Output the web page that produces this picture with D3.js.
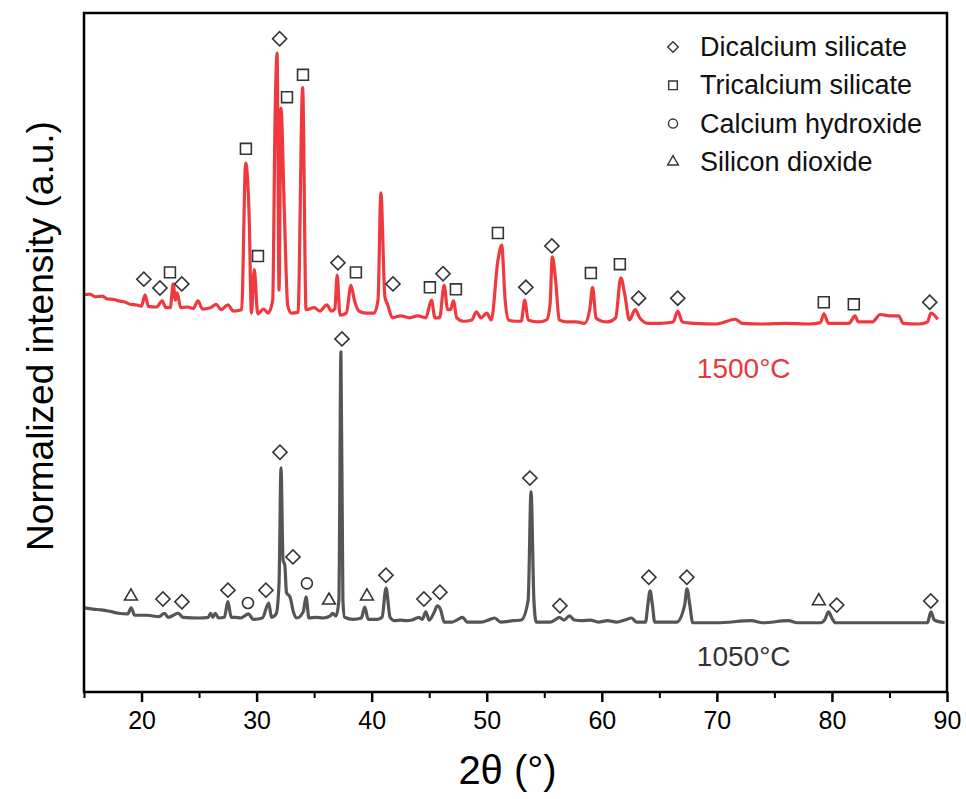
<!DOCTYPE html>
<html>
<head>
<meta charset="utf-8">
<script src="https://cdn.jsdelivr.net/npm/d3@7"></script>
<style>
  body { margin: 0; background: #fff; }
  text { font-family: Arial, "Liberation Sans", Helvetica, sans-serif; }
</style>
</head>
<body>
<div id="chart"></div>
<script>
// XRD patterns, [2θ (°), normalized intensity]
const pattern1500 = [
  [15.0,58.5],[15.5,58.6],[16.0,58.2],[16.6,58.3],[17.0,57.9],[17.6,57.8],[18.0,57.6],[18.6,57.4],
  [19.0,57.1],[19.6,57.0],[20.0,56.8],[20.3,58.5],[20.6,56.8],[21.3,56.7],[21.8,57.6],[22.1,56.6],
  [22.5,56.6],[22.75,60.1],[22.95,57.7],[23.1,58.8],[23.4,56.6],[24.0,56.7],[24.5,56.5],[24.9,57.6],
  [25.3,56.4],[26.0,56.6],[26.5,57.1],[26.9,56.3],[27.5,57.0],[28.0,56.1],[28.7,56.3],[29.05,77.9],
  [29.35,70.2],[29.55,55.8],[29.8,62.2],[30.1,55.7],[30.6,56.4],[31.0,55.8],[31.4,57.7],[31.6,84.2],
  [31.78,94.1],[31.95,59.2],[32.12,86.0],[32.4,71.4],[32.7,57.0],[33.0,55.8],[33.6,55.9],[34.0,89.0],
  [34.3,56.3],[35.0,56.6],[35.5,56.1],[36.1,57.0],[36.5,56.1],[36.8,56.4],[37.0,61.4],[37.25,55.5],
  [37.8,55.8],[38.2,59.9],[38.5,57.7],[38.9,56.1],[39.5,55.8],[40.2,55.8],[40.55,57.7],[40.8,73.5],
  [41.15,58.2],[41.4,57.0],[41.8,55.1],[42.5,55.4],[43.3,55.1],[44.0,55.4],[44.7,55.1],[45.2,57.7],
  [45.5,55.1],[45.9,55.1],[46.3,59.9],[46.6,56.3],[46.85,56.3],[47.1,57.6],[47.4,55.1],[48.0,54.6],
  [48.7,54.8],[49.1,56.0],[49.5,55.1],[50.0,55.8],[50.4,54.8],[50.95,63.3],[51.3,65.8],[51.6,57.7],
  [51.9,54.8],[52.5,54.6],[53.0,54.6],[53.3,57.7],[53.6,54.8],[54.5,54.5],[55.2,54.8],[55.5,57.0],
  [55.7,64.1],[56.0,60.4],[56.3,54.8],[57.0,54.5],[57.8,54.5],[58.5,54.3],[58.95,56.3],[59.2,59.6],
  [59.5,55.1],[60.0,54.6],[60.5,54.5],[61.2,55.1],[61.65,61.0],[62.0,58.5],[62.4,54.8],[62.9,56.3],
  [63.3,55.1],[64.0,54.3],[65.0,54.3],[66.2,54.5],[66.6,56.1],[67.0,54.5],[68.0,54.3],[70.0,54.2],
  [71.6,54.9],[72.2,54.3],[74.0,54.2],[76.0,54.3],[78.0,54.2],[79.0,54.4],[79.3,55.7],[79.7,54.3],
  [81.5,54.3],[82.0,55.4],[82.3,54.5],[83.5,54.5],[84.2,55.6],[85.0,55.4],[85.8,55.4],[86.2,54.3],
  [87.5,54.2],[88.3,54.5],[88.6,55.8],[89.2,54.9]
]

const pattern1050 = [
  [15.0,12.4],[15.8,12.2],[16.5,12.1],[17.2,11.9],[18.0,11.6],[18.8,11.5],[19.1,12.4],[19.4,11.3],
  [20.5,11.3],[21.5,11.1],[22.0,11.6],[22.3,11.0],[23.2,11.6],[23.6,11.0],[25.0,10.9],[25.8,11.0],
  [26.0,11.6],[26.2,11.0],[26.4,11.6],[26.7,10.9],[27.2,11.0],[27.5,13.3],[27.8,11.0],[28.2,11.0],
  [28.6,10.9],[29.3,11.5],[29.7,10.7],[30.5,10.9],[31.05,13.1],[31.3,11.0],[31.7,11.5],[31.95,16.0],
  [32.12,33.0],[32.3,19.4],[32.45,18.7],[32.6,14.6],[32.9,14.0],[33.2,11.8],[33.5,10.9],[34.05,11.8],
  [34.3,14.0],[34.55,10.9],[35.2,11.0],[35.8,10.9],[36.4,11.2],[36.6,11.6],[36.9,11.2],[37.15,13.5],
  [37.33,50.1],[37.5,13.5],[37.65,11.0],[38.4,10.7],[39.1,10.9],[39.4,12.5],[39.7,10.7],[40.5,10.7],
  [40.9,11.0],[41.25,15.3],[41.6,11.0],[42.0,10.5],[42.5,10.6],[43.0,10.5],[43.5,10.6],[44.1,11.0],
  [44.4,10.7],[44.7,11.8],[45.0,10.6],[45.45,11.8],[45.7,12.7],[46.0,12.1],[46.3,10.3],[47.0,10.3],
  [47.5,10.7],[47.9,11.0],[48.3,10.3],[49.5,10.3],[50.3,10.7],[50.7,10.9],[51.2,10.3],[52.3,10.5],
  [53.0,10.6],[53.6,13.5],[53.85,29.5],[54.1,13.5],[54.3,10.3],[55.5,10.3],[56.0,10.7],[56.3,11.0],
  [56.7,10.6],[57.2,11.2],[57.6,10.6],[58.3,10.5],[59.0,10.6],[59.7,10.3],[60.5,10.5],[61.3,10.3],
  [62.0,10.6],[62.6,10.9],[63.0,10.3],[63.8,10.3],[64.0,12.8],[64.2,14.9],[64.4,12.8],[64.6,10.3],
  [65.5,10.3],[66.5,10.3],[67.2,12.8],[67.4,15.2],[67.65,12.8],[67.9,10.2],[70.0,10.2],[73.0,10.5],
  [74.0,10.2],[76.2,10.5],[77.0,10.2],[79.0,10.2],[79.4,10.7],[79.7,11.8],[80.0,10.9],[80.3,10.2],
  [83.0,10.2],[86.0,10.2],[88.3,10.2],[88.6,11.8],[88.9,10.6],[89.8,10.2]
]

// phase markers [2θ, level]
const c2sMarks = [
  [20.2,60.8],[21.6,59.5],[23.5,60.1],[32.0,96.2],[37.07,63.2],[41.85,60.1],[46.2,61.6],[53.4,59.6],
  [55.66,65.7],[63.2,58.0],[66.6,58.0],[88.5,57.4],
  [21.86,13.7],[23.51,13.3],[27.51,15.0],[30.81,15.0],[32.03,35.3],[33.16,19.9],[37.42,52.0],
  [41.24,17.2],[44.54,13.7],[45.93,14.7],[53.75,31.5],[56.36,12.7],[64.09,16.9],[67.39,16.9],
  [80.42,12.8],[88.59,13.4]
]
const c3sMarks = [
  [22.47,61.8],[29.07,80.0],[30.12,64.2],[32.64,87.6],[34.03,90.9],[38.63,61.8],[45.06,59.6],
  [47.32,59.3],[50.97,67.6],[59.05,61.7],[61.57,63.0],[79.29,57.4],[81.9,57.1]
]
const chMarks = [[29.25,13.1],[34.37,16.0]]
const sio2Marks = [[19.08,14.1],[36.29,13.5],[39.59,14.1],[78.86,13.4]]

const phaseNames = ['Dicalcium silicate', 'Tricalcium silicate', 'Calcium hydroxide', 'Silicon dioxide']
const majorTicks = [20, 30, 40, 50, 60, 70, 80, 90]
const minorTicks = [15, 25, 35, 45, 55, 65, 75, 85]

const W = 966, H = 799
const plot = {left: 84, right: 947, top: 13, bottom: 692}

const svg = d3.select('#chart').append('svg')
  .attr('width', W).attr('height', H)

const x = d3.scaleLinear().domain([15, 90]).range([plot.left, plot.right])
const y = d3.scaleLinear().domain([0, 100]).range([plot.bottom, plot.top])

// curves
const line = d3.line()
  .x(d => x(d[0]))
  .y(d => y(d[1]))
  .curve(d3.curveMonotoneX)

svg.append('path').datum(pattern1050)
  .attr('d', line).attr('fill', 'none')
  .attr('stroke', '#555').attr('stroke-width', 3.2).attr('stroke-linejoin', 'round')

svg.append('path').datum(pattern1500)
  .attr('d', line).attr('fill', 'none')
  .attr('stroke', '#f0393e').attr('stroke-width', 3.2).attr('stroke-linejoin', 'round')

// marker shapes
const shapes = [
  {sym: d3.symbolSquare, size: 100, rot: 45},
  {sym: d3.symbolSquare, size: 118, rot: 0},
  {sym: d3.symbolCircle, size: 95, rot: 0},
  {sym: d3.symbolTriangle, size: 70, rot: 0}
]
const markSets = [c2sMarks, c3sMarks, chMarks, sio2Marks]

markSets.forEach((set, i) => {
  svg.append('g').selectAll('path')
    .data(set).enter().append('path')
    .attr('d', d3.symbol().type(shapes[i].sym).size(shapes[i].size))
    .attr('transform', d => `translate(${x(d[0])},${y(d[1])}) rotate(${shapes[i].rot})`)
    .attr('fill', 'white')
    .attr('stroke', '#333')
    .attr('stroke-width', 1.6)
})

// frame
svg.append('rect')
  .attr('x', plot.left).attr('y', plot.top)
  .attr('width', plot.right - plot.left).attr('height', plot.bottom - plot.top)
  .attr('fill', 'none').attr('stroke', '#000').attr('stroke-width', 2.5)

// x axis
const xAxis = svg.append('g')
  .attr('transform', `translate(0,${plot.bottom})`)
  .call(d3.axisBottom(x).tickValues(majorTicks).tickSize(10).tickPadding(9).tickFormat(d3.format('d')))
xAxis.select('.domain').remove()
xAxis.selectAll('line').attr('stroke-width', 2.5)
xAxis.selectAll('text').attr('font-size', 25).attr('fill', '#000')

const xMinor = svg.append('g')
  .attr('transform', `translate(0,${plot.bottom})`)
  .call(d3.axisBottom(x).tickValues(minorTicks).tickSize(6).tickFormat(''))
xMinor.select('.domain').remove()
xMinor.selectAll('line').attr('stroke-width', 2)

svg.append('text')
  .attr('x', (plot.left + plot.right) / 2 - 8).attr('y', 784)
  .attr('text-anchor', 'middle').attr('font-size', 40)
  .text('2θ (°)')

svg.append('text')
  .attr('transform', 'translate(40,336) rotate(-90)')
  .attr('text-anchor', 'middle').attr('dominant-baseline', 'central')
  .attr('font-size', 37)
  .text('Normalized intensity (a.u.)')

// sample labels
svg.append('text')
  .attr('x', x(68.26)).attr('y', y(46.2))
  .attr('font-size', 28).attr('fill', '#e8383d')
  .text('1500°C')
svg.append('text')
  .attr('x', x(68.26)).attr('y', y(3.8))
  .attr('font-size', 28).attr('fill', '#333')
  .text('1050°C')

// legend
const legend = svg.append('g').attr('transform', 'translate(673,47)')
const legendShapes = [
  {sym: d3.symbolSquare, size: 55, rot: 45},
  {sym: d3.symbolSquare, size: 75, rot: 0},
  {sym: d3.symbolCircle, size: 65, rot: 0},
  {sym: d3.symbolTriangle, size: 50, rot: 0}
]
phaseNames.forEach((name, i) => {
  const row = legend.append('g').attr('transform', `translate(0,${i * 38.3})`)
  row.append('path')
    .attr('d', d3.symbol().type(legendShapes[i].sym).size(legendShapes[i].size))
    .attr('transform', `rotate(${legendShapes[i].rot})`)
    .attr('fill', 'white').attr('stroke', '#333').attr('stroke-width', 1.4)
  row.append('text')
    .attr('x', 27).attr('dominant-baseline', 'central')
    .attr('font-size', 27).attr('fill', '#111')
    .text(name)
})
</script>
</body>
</html>
